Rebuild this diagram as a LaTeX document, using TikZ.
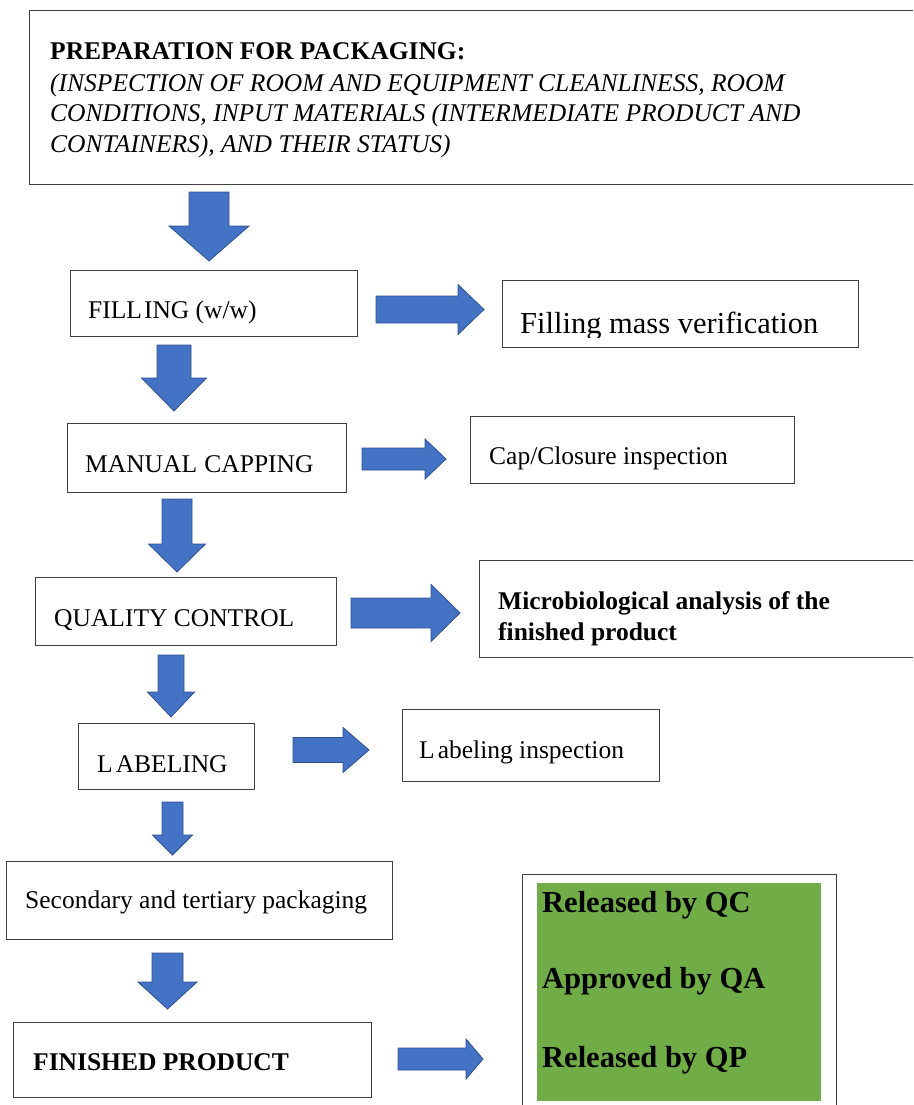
\documentclass[tikz,border=0pt]{standalone}
\usepackage{fontspec}
\setmainfont{Liberation Serif}
\definecolor{arrblue}{HTML}{4472C4}
\definecolor{arredge}{HTML}{2F528F}
\definecolor{okgreen}{HTML}{70AD47}
\definecolor{boxline}{HTML}{404040}
\tikzset{
  box/.style={draw=boxline, line width=1.3pt, inner sep=0pt, anchor=north west},
  lbl/.style={anchor=base west, inner sep=0pt, font=\fontsize{25.5}{30}\selectfont},
  lblbig/.style={anchor=base west, inner sep=0pt, font=\fontsize{30.5}{36}\selectfont},
  barrow/.style={fill=arrblue, draw=arredge, line width=0.8pt, line join=miter}
}
% vertical block arrow: #1 cx, #2 top, #3 tip, #4 shaft half, #5 head half, #6 head start
\newcommand\vblock[6]{\draw[barrow] (#1-#4,#2) -- (#1+#4,#2) -- (#1+#4,#6) -- (#1+#5,#6) -- (#1,#3) -- (#1-#5,#6) -- (#1-#4,#6) -- cycle;}
% horizontal block arrow: #1 left, #2 cy, #3 tip, #4 shaft half, #5 head half, #6 head start
\newcommand\hblock[6]{\draw[barrow] (#1,#2-#4) -- (#6,#2-#4) -- (#6,#2-#5) -- (#3,#2) -- (#6,#2+#5) -- (#6,#2+#4) -- (#1,#2+#4) -- cycle;}
\begin{document}
\begin{tikzpicture}[x=1pt,y=-1pt]
\useasboundingbox (0,0) rectangle (913,1105);
\clip (0,0) rectangle (913,1105);
% boxes
\node[box, minimum width=891, minimum height=174] (prep) at (29,10) {};
\node[box, minimum width=287, minimum height=66] (fill) at (70,270) {};
\node[box, minimum width=356, minimum height=67] (mass) at (502,280) {};
\node[box, minimum width=279, minimum height=69] (cap) at (67,423) {};
\node[box, minimum width=324, minimum height=67] (capi) at (470,416) {};
\node[box, minimum width=301, minimum height=68] (qc) at (35,577) {};
\node[box, minimum width=441, minimum height=97] (micro) at (479,560) {};
\node[box, minimum width=176, minimum height=66] (lab) at (78,723) {};
\node[box, minimum width=257, minimum height=72] (labi) at (402,709) {};
\node[box, minimum width=386, minimum height=78] (sec) at (6,861) {};
\node[box, minimum width=358, minimum height=75] (fin) at (13,1022) {};
\node[box, minimum width=314, minimum height=240] (rel) at (522,874) {};
\node[anchor=north west, inner sep=0pt, fill=okgreen, minimum width=284, minimum height=218] (green) at (537,883) {};
% texts
\node[lbl, font=\fontsize{25.5}{30}\selectfont\bfseries] (prep1) at (50,60) {PREPARATION FOR PACKAGING:};
\node[lbl, font=\fontsize{25.5}{30}\selectfont\itshape] (prep2) at (50,92) {(INSPECTION OF ROOM AND EQUIPMENT CLEANLINESS, ROOM};
\node[lbl, font=\fontsize{25.5}{30}\selectfont\itshape] (prep3) at (50,122) {CONDITIONS, INPUT MATERIALS (INTERMEDIATE PRODUCT AND};
\node[lbl, font=\fontsize{25.5}{30}\selectfont\itshape] (prep4) at (50,152) {CONTAINERS), AND THEIR STATUS)};
\node[lbl] (fillT) at (88,318) {FILL\hspace{2pt}ING (w/w)};
\begin{scope}
\clip (502,280) rectangle (858,337);
\node[lblbig] (massT) at (520,333) {Filling mass verification};
\end{scope}
\node[lbl] (capT) at (85,472) {MANUAL\hspace{1pt} CAPPING};
\node[lbl] (capiT) at (489,464) {Cap/Closure inspection};
\node[lbl] (qcT) at (54,626) {QUALITY CONTROL};
\node[lbl, font=\fontsize{25.5}{30}\selectfont\bfseries] (micro1) at (498,609) {Microbiological analysis of the};
\node[lbl, font=\fontsize{25.5}{30}\selectfont\bfseries] (micro2) at (498,640) {finished product};
\node[lbl] (labT) at (97,772) {L\hspace{3pt}ABELING};
\node[lbl] (labiT) at (419,758) {L\hspace{3pt}abeling inspection};
\node[lbl] (secT) at (25,908) {Secondary and tertiary packaging};
\node[lbl, font=\fontsize{25.5}{30}\selectfont\bfseries] (finT) at (33,1070) {FINISHED PRODUCT};
\node[lblbig, font=\fontsize{30.5}{36}\selectfont\bfseries] (qcrel) at (542,912) {Released by QC};
\node[lblbig, font=\fontsize{30.5}{36}\selectfont\bfseries] (qaapp) at (542,988) {Approved by QA};
\node[lblbig, font=\fontsize{30.5}{36}\selectfont\bfseries] (qprel) at (542,1067) {Released by QP};
% vertical block arrows
\vblock{209}{192}{261}{20}{40}{226}
\vblock{174}{345}{411}{17}{32.5}{378}
\vblock{177}{499}{572}{15}{28.5}{544}
\vblock{171}{655}{717}{13}{23.5}{692}
\vblock{172.5}{802}{855}{10.5}{20}{835}
\vblock{167.5}{953}{1009}{15.5}{29.5}{982}
% horizontal block arrows
\hblock{376}{309.5}{484}{13.5}{25}{458}
\hblock{362}{459}{446}{11}{20}{425}
\hblock{351}{613}{460}{15}{28.5}{431}
\hblock{293}{750}{369}{12.5}{22.5}{343}
\hblock{398}{1059}{483}{11}{20}{466}
\end{tikzpicture}
\end{document}
